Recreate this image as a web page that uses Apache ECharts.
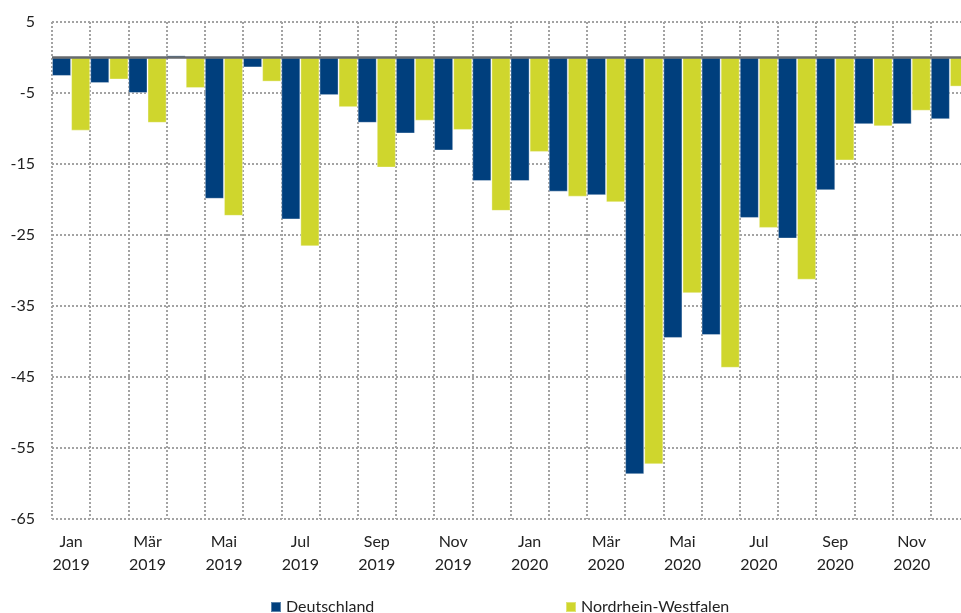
<!DOCTYPE html>
<html>
<head>
<meta charset="utf-8">
<script src="https://cdn.jsdelivr.net/npm/echarts@6/dist/echarts.min.js"></script>
<style>
  html, body { margin: 0; padding: 0; background: #fff; }
  #chart { width: 961px; height: 613px; }
</style>
</head>
<body>
<div id="chart"></div>
<script>
const categories = [
  'Jan\n2019', 'Feb\n2019', 'Mär\n2019', 'Apr\n2019', 'Mai\n2019', 'Jun\n2019',
  'Jul\n2019', 'Aug\n2019', 'Sep\n2019', 'Okt\n2019', 'Nov\n2019', 'Dez\n2019',
  'Jan\n2020', 'Feb\n2020', 'Mär\n2020', 'Apr\n2020', 'Mai\n2020', 'Jun\n2020',
  'Jul\n2020', 'Aug\n2020', 'Sep\n2020', 'Okt\n2020', 'Nov\n2020', 'Dez\n2020'
];
const deutschland = [
  -2.6, -3.6, -5.0, 0.3, -19.9, -1.4, -22.8, -5.3, -9.2, -10.7, -13.1, -17.4,
  -17.4, -18.9, -19.4, -58.7, -39.5, -39.1, -22.6, -25.5, -18.7, -9.4, -9.4, -8.7
];
const nrw = [
  -10.3, -3.1, -9.2, -4.3, -22.3, -3.4, -26.6, -7.0, -15.5, -8.9, -10.2, -21.6,
  -13.3, -19.6, -20.4, -57.3, -33.2, -43.7, -24.0, -31.3, -14.5, -9.7, -7.5, -4.1
];
// tick labels from bottom (-65) to top (5)
const yTicks = ['-65', '-55', '-45', '-35', '-25', '-15', '-5', '5'];

const font = 'Lato, "Noto Sans", sans-serif';
const dotted = { color: '#a3a3a3', width: 2, type: [2, 2] };

const chart = echarts.init(document.getElementById('chart'));
const options = {
  animation: false,
  textStyle: { fontFamily: font },
  // plot runs a bit past the right edge of the picture, like the original
  grid: {
    left: 52, top: 22, width: 917, height: 497,
    containLabel: false, outerBoundsMode: 'none'
  },
  legend: [
    {
      data: ['Deutschland'], left: 265, top: 594, icon: 'rect',
      itemWidth: 10, itemHeight: 10,
      textStyle: { fontSize: 16, color: '#222', fontFamily: font }
    },
    {
      data: ['Nordrhein-Westfalen'], left: 560, top: 594, icon: 'rect',
      itemWidth: 10, itemHeight: 10,
      textStyle: { fontSize: 16, color: '#222', fontFamily: font }
    }
  ],
  xAxis: {
    type: 'category',
    data: categories,
    boundaryGap: true,
    axisLine: { show: false, onZero: false },
    axisTick: { show: false },
    splitLine: { show: true, interval: 0, lineStyle: dotted },
    axisLabel: {
      interval: 1, margin: 11, fontSize: 16, lineHeight: 23,
      color: '#222', fontFamily: font
    }
  },
  yAxis: [
    // value scale for the bars
    { type: 'value', min: -65, max: 5, show: false },
    // grid lines and labels, counted from the bottom in steps of 10
    {
      type: 'value', min: 0, max: 70, interval: 10, position: 'left',
      axisLine: { show: false }, axisTick: { show: false },
      splitLine: { show: true, lineStyle: dotted },
      axisLabel: {
        margin: 17, fontSize: 16, color: '#222', fontFamily: font,
        formatter: v => yTicks[Math.round(v / 10)]
      }
    }
  ],
  series: [
    {
      name: 'Deutschland', type: 'bar', yAxisIndex: 0, data: deutschland,
      barGap: '0%', barCategoryGap: '0%',
      itemStyle: { color: '#003f7d', borderColor: 'rgba(255,255,255,0.35)', borderWidth: 1 },
      markLine: {
        silent: true, symbol: 'none', label: { show: false },
        lineStyle: { color: '#666a6e', width: 2.5, type: 'solid' },
        data: [{ yAxis: 0 }]
      },
      z: 2
    },
    {
      name: 'Nordrhein-Westfalen', type: 'bar', yAxisIndex: 0, data: nrw,
      barGap: '0%', barCategoryGap: '0%',
      itemStyle: { color: '#cfd62d', borderColor: 'rgba(255,255,255,0.35)', borderWidth: 1 },
      z: 2
    }
  ]
};
chart.setOption(options);
</script>
</body>
</html>
